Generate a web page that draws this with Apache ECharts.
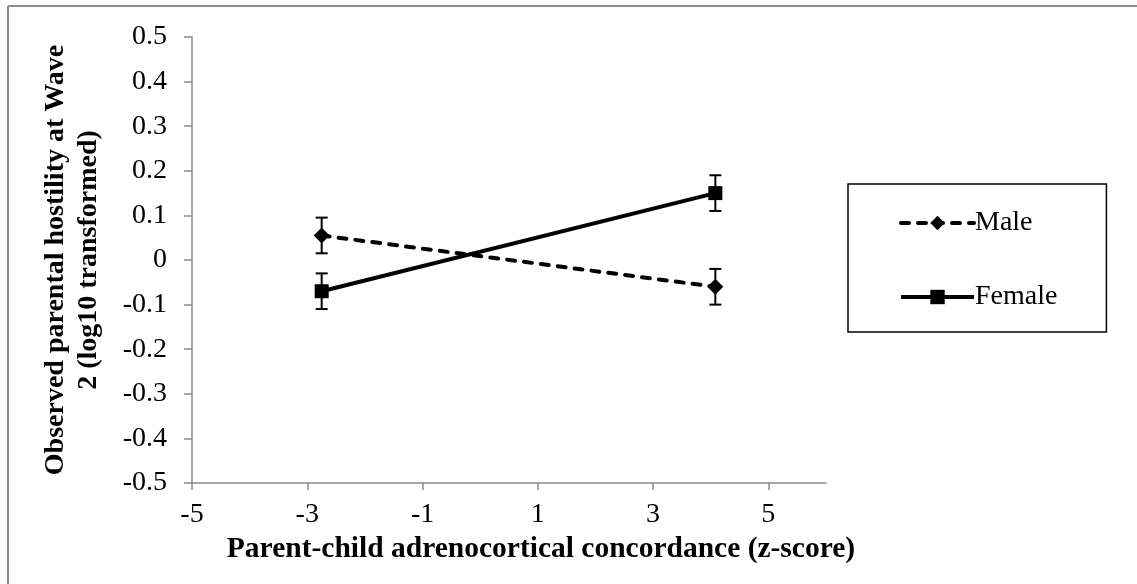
<!DOCTYPE html>
<html>
<head>
<meta charset="utf-8">
<script src="https://cdn.jsdelivr.net/npm/echarts@6/dist/echarts.min.js"></script>
<style>
html,body{margin:0;padding:0;background:#fff;}
#c{width:1137px;height:584px;}
</style>
</head>
<body>
<div id="c"></div>
<script>
// ---- data ----
var xTickValues = [-5, -3, -1, 1, 3, 5];
var yTickValues = [-0.5, -0.4, -0.3, -0.2, -0.1, 0, 0.1, 0.2, 0.3, 0.4, 0.5];
var concordanceX = [-2.75, 4.08];
var maleY = [0.055, -0.06];
var femaleY = [-0.07, 0.15];
var maleErr = [0.04, 0.04];
var femaleErr = [0.04, 0.04];
var seriesNames = ['Male', 'Female'];
var xTitle = 'Parent-child adrenocortical concordance (z-score)';
var yTitle = 'Observed parental hostility at Wave\n2 (log10 transformed)';

function pts(ys) { return concordanceX.map(function (x, i) { return [x, ys[i]]; }); }
function errData(ys, es) { return concordanceX.map(function (x, i) { return [x, ys[i] - es[i], ys[i] + es[i]]; }); }

var FONT = '"Liberation Serif", "Times New Roman", serif';
var AXIS_COLOR = '#8a8a8a';

function errRender(params, api) {
  var x = api.value(0), lo = api.value(1), hi = api.value(2);
  var pLo = api.coord([x, lo]), pHi = api.coord([x, hi]);
  var cap = 6;
  var st = { stroke: '#000', lineWidth: 2 };
  return {
    type: 'group',
    children: [
      { type: 'line', shape: { x1: pLo[0], y1: pLo[1], x2: pHi[0], y2: pHi[1] }, style: st },
      { type: 'line', shape: { x1: pLo[0] - cap, y1: pLo[1], x2: pLo[0] + cap, y2: pLo[1] }, style: st },
      { type: 'line', shape: { x1: pHi[0] - cap, y1: pHi[1], x2: pHi[0] + cap, y2: pHi[1] }, style: st }
    ]
  };
}

var chart = echarts.init(document.getElementById('c'), null, { renderer: 'canvas' });
chart.setOption({
  animation: false,
  backgroundColor: '#fff',
  textStyle: { fontFamily: FONT },
  graphic: [
    { type: 'line', shape: { x1: 8, y1: 6, x2: 1137, y2: 6 }, style: { stroke: '#8c8c8c', lineWidth: 2 } },
    { type: 'line', shape: { x1: 8, y1: 6, x2: 8, y2: 584 }, style: { stroke: '#8c8c8c', lineWidth: 2 } }
  ],
  grid: { left: 192, top: 37, right: 311, bottom: 101, containLabel: false },
  legend: {
    data: seriesNames,
    orient: 'vertical',
    left: 848,
    top: 184,
    padding: [25, 49, 21, 51],
    itemGap: 46,
    itemWidth: 73,
    itemHeight: 18,
    borderColor: '#000',
    borderWidth: 1.5,
    lineStyle: { width: 4 },
    textStyle: { fontFamily: FONT, fontSize: 28, color: '#000', padding: [0, 0, 0, -4] }
  },
  xAxis: {
    type: 'value',
    min: -5,
    max: 6,
    interval: 2,
    splitLine: { show: false },
    axisLine: { onZero: false, lineStyle: { color: AXIS_COLOR, width: 1.5 } },
    axisTick: { show: true, length: 7, lineStyle: { color: AXIS_COLOR, width: 1.5 }, customValues: xTickValues },
    axisLabel: { customValues: xTickValues, fontFamily: FONT, fontSize: 28, color: '#000', margin: 18 },
    name: xTitle,
    nameLocation: 'middle',
    nameGap: 46,
    nameTextStyle: { fontFamily: FONT, fontSize: 29.5, fontWeight: 'bold', color: '#000', padding: [0, 0, 0, 64] }
  },
  yAxis: {
    type: 'value',
    min: -0.5,
    max: 0.5,
    interval: 0.1,
    splitLine: { show: false },
    axisLine: { show: true, onZero: false, lineStyle: { color: AXIS_COLOR, width: 1.5 } },
    axisTick: { show: true, length: 8, lineStyle: { color: AXIS_COLOR, width: 1.5 }, customValues: yTickValues },
    axisLabel: {
      customValues: yTickValues,
      fontFamily: FONT, fontSize: 28, color: '#000', margin: 25,
      formatter: function (v) { return Math.abs(v) < 1e-9 ? '0' : (Math.round(v * 10) / 10).toFixed(1); }
    },
    name: yTitle,
    nameLocation: 'middle',
    nameGap: 87,
    nameRotate: 90,
    nameTextStyle: { fontFamily: FONT, fontSize: 28, fontWeight: 'bold', color: '#000', lineHeight: 33, align: 'center' }
  },
  series: [
    {
      name: 'Male', type: 'line', data: pts(maleY),
      symbol: 'diamond', symbolSize: 16,
      lineStyle: { color: '#000', width: 4, type: [8, 9], cap: 'round' },
      itemStyle: { color: '#000' }, z: 3
    },
    {
      name: 'Female', type: 'line', data: pts(femaleY),
      symbol: 'rect', symbolSize: 14,
      lineStyle: { color: '#000', width: 4, type: 'solid' },
      itemStyle: { color: '#000' }, z: 3
    },
    { name: 'MaleErr', type: 'custom', renderItem: errRender, data: errData(maleY, maleErr), z: 2, silent: true },
    { name: 'FemaleErr', type: 'custom', renderItem: errRender, data: errData(femaleY, femaleErr), z: 2, silent: true }
  ]
});
</script>
</body>
</html>
